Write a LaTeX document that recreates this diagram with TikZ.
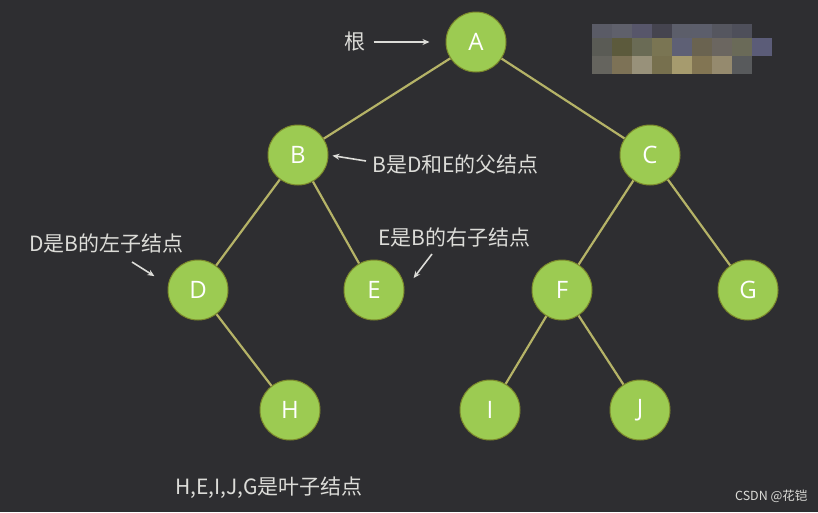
\documentclass[tikz,border=0pt]{standalone}
\usepackage{fontspec}
\setmainfont{Open Sans}
\newfontfamily\cjk{Noto Sans CJK SC}
\usetikzlibrary{arrows.meta}

\definecolor{bgdark}{HTML}{2E2E31}
\definecolor{leafgreen}{HTML}{9CCB52}
\definecolor{rimgold}{HTML}{7C8A2C}
\definecolor{edgekhaki}{HTML}{B5B367}
\definecolor{notewhite}{HTML}{DCDCD8}

\tikzset{
  treenode/.style={circle, fill=leafgreen, draw=rimgold, line width=1pt,
    minimum size=60pt, inner sep=0pt, text=white, font=\fontsize{24}{24}\selectfont},
  treeedge/.style={edgekhaki, line width=2.2pt},
  note/.style={text=notewhite, font=\cjk\fontsize{21}{21}\selectfont, inner sep=0pt},
  pointer/.style={notewhite, line width=1.6pt, -{Stealth[length=7pt,width=6pt]}}
}

\begin{document}
\begin{tikzpicture}[x=1pt, y=-1pt]
\useasboundingbox (0,0) rectangle (818,512);
\fill [bgdark] (0,0) rectangle (818,512);
% blurred patch top right
\foreach \x/\c in {592/5A5B66,612/5F606B,632/57566A,652/45444F,672/5C5E6A,692/5C5E6B,712/55565F,732/4E4F5A} {
    \definecolor{patch}{HTML}{\c}
    \fill [patch] (\x,24) rectangle ++(20,14);
}
\foreach \x/\c in {592/5A5B55,612/5C5A3C,632/6A6B55,652/7A7553,672/5E6075,692/6A6350,712/6B6660,732/6A6A58,752/5B5C78} {
    \definecolor{patch}{HTML}{\c}
    \fill [patch] (\x,38) rectangle ++(20,18);
}
\foreach \x/\c in {592/65645E,612/7D7256,632/98917A,652/77704E,672/A69B6E,692/827553,712/958A6E,732/585A5C} {
    \definecolor{patch}{HTML}{\c}
    \fill [patch] (\x,56) rectangle ++(20,18);
}
% the tree
\node[treenode] (A) at (476,42) {A};
\node[treenode] (B) at (298,155) {B};
\node[treenode] (C) at (650,155) {C};
\node[treenode] (D) at (198,290) {D};
\node[treenode] (E) at (374,290) {E};
\node[treenode] (F) at (562,290) {F};
\node[treenode] (G) at (748,290) {G};
\node[treenode] (H) at (290,410) {H};
\node[treenode] (I) at (490,410) {I};
\node[treenode] (J) at (640,410) {J};
\foreach \p/\q in {A/B,A/C,B/D,B/E,C/F,C/G,D/H,F/I,F/J} {
    \draw [treeedge] (\p) -- (\q);
}
% notes
\node[note] (root) at (355,42) {根};
\draw [pointer, shorten <=8pt, shorten >=16pt] (root) -- (A);
\node[note, anchor=west] (parentnote) at (372,165) {B是D和E的父结点};
\coordinate (btail) at (366,161);
\draw [pointer, shorten >=4pt] (btail) -- (B.east);
\node[note, anchor=west] (leftnote) at (29,243) {D是B的左子结点};
\coordinate (dtail) at (132,262);
\draw [pointer, shorten >=16pt] (dtail) -- (D.170);
\node[note, anchor=west] (rightnote) at (378,237) {E是B的右子结点};
\coordinate (etail) at (432,254);
\draw [pointer, shorten >=15pt] (etail) -- (E.east);
\node[note, anchor=west] (leafnote) at (175,488) {H,E,I,J,G是叶子结点};
% watermark
\node[text=notewhite, font=\cjk\fontsize{12.5}{12.5}\selectfont, anchor=east] (mark) at (811,496) {CSDN @花铠};
\end{tikzpicture}
\end{document}
